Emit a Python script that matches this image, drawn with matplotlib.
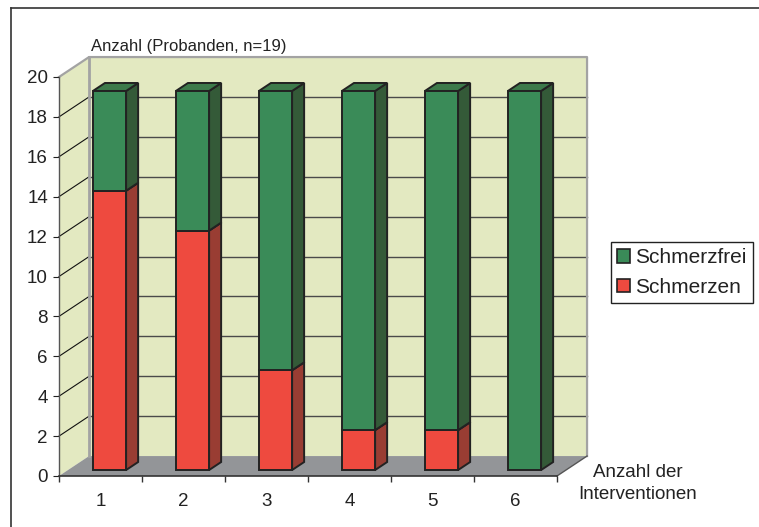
import matplotlib
matplotlib.use("Agg")
import matplotlib.pyplot as plt
from matplotlib.patches import Polygon, Patch
from matplotlib.lines import Line2D

plt.rcParams['font.family'] = ['Liberation Sans', 'DejaVu Sans']

# data
categories = ["1", "2", "3", "4", "5", "6"]
schmerzen = [14, 12, 5, 2, 2, 0]
schmerzfrei = [5, 7, 14, 17, 17, 19]
y_ticks = list(range(0, 21, 2))
series_names = ["Schmerzfrei", "Schmerzen"]
y_title = "Anzahl (Probanden, n=19)"
x_title = ["Anzahl der", "Interventionen"]

# colours
WALL = "#e3e9c1"
FLOOR = "#939598"
WALL_EDGE = "#a3a3a3"
GRID = "#4a4a4a"
RED = ("#ee4a3f", "#993d33", "#c6473c")     # front, side, top
GREEN = ("#3a8b58", "#345a38", "#3d7a4b")
EDGE = "#222222"

W, H = 759, 527
fig = plt.figure(figsize=(W / 100, H / 100), dpi=100)
fig.patch.set_facecolor("white")

# outer frame (top and left border)
fig.add_artist(Line2D([11 / W, 1.0], [1 - 8 / H, 1 - 8 / H], color="#333333", lw=1.2))
fig.add_artist(Line2D([11 / W, 11 / W], [1 - 8 / H, 0.0], color="#333333", lw=1.2))

ax = fig.add_axes([59 / W, 1 - 476 / H, 498 / W, 399 / H])
ax.set_xlim(0.5, 6.5)
ax.set_ylim(0, 20)
ax.patch.set_alpha(0)

# oblique depth offset of the chart box (category units, value units)
DX, DY = 0.362, 1.0
x0, x1 = 0.5, 6.5
ymax = 20


def poly(pts, fc, ec="none", lw=0, z=1):
    p = Polygon(pts, closed=True, facecolor=fc, edgecolor=ec, lw=lw,
                zorder=z, clip_on=False, joinstyle="miter")
    ax.add_patch(p)


# walls and floor
poly([(x0, 0), (x0, ymax), (x0 + DX, ymax + DY), (x0 + DX, DY)], WALL, z=0.5)
poly([(x0 + DX, DY), (x0 + DX, ymax + DY), (x1 + DX, ymax + DY), (x1 + DX, DY)], WALL, z=0.5)
poly([(x0, 0), (x1, 0), (x1 + DX, DY), (x0 + DX, DY)], FLOOR, z=0.6)

# gridlines on back wall and side wall
for v in y_ticks[1:-1]:
    ax.plot([x0 + DX, x1 + DX], [v + DY, v + DY], color=GRID, lw=1.0,
            zorder=0.7, clip_on=False)
for v in y_ticks[1:-1]:
    ax.plot([x0, x0 + DX], [v, v + DY], color="#111111", lw=0.8,
            zorder=0.7, clip_on=False)

# wall borders
ax.plot([x0, x0 + DX, x1 + DX, x1 + DX], [ymax, ymax + DY, ymax + DY, DY],
        color=WALL_EDGE, lw=1.6, zorder=0.8, clip_on=False)
ax.plot([x0 + DX, x0 + DX], [DY, ymax + DY], color=WALL_EDGE, lw=2.0,
        zorder=0.8, clip_on=False)
ax.plot([x1, x1 + DX], [0, DY], color="#555555", lw=1.0, zorder=0.8, clip_on=False)

# bars
BW = 0.40       # bar width in category units
D0, D1 = 0.30, 0.70   # bar front/back position within the depth


def bar3d(xc, bottom, height, colors, z):
    if height <= 0:
        return
    front, side, top = colors
    xl = xc - BW / 2 + D0 * DX
    xr = xc + BW / 2 + D0 * DX
    yb = bottom + D0 * DY
    yt = bottom + height + D0 * DY
    ddx = (D1 - D0) * DX
    ddy = (D1 - D0) * DY
    poly([(xr, yb), (xr + ddx, yb + ddy), (xr + ddx, yt + ddy), (xr, yt)],
         side, EDGE, 1.4, z)
    poly([(xl, yt), (xr, yt), (xr + ddx, yt + ddy), (xl + ddx, yt + ddy)],
         top, EDGE, 1.4, z)
    poly([(xl, yb), (xr, yb), (xr, yt), (xl, yt)], front, EDGE, 1.4, z)


for i, (r, g) in enumerate(zip(schmerzen, schmerzfrei)):
    xc = i + 1
    bar3d(xc, 0, r, RED, 2)
    bar3d(xc, r, g, GREEN, 3)

# axes, ticks and labels
for s in ("top", "right"):
    ax.spines[s].set_visible(False)
ax.spines["left"].set_color("#555555")
ax.spines["left"].set_linewidth(1.0)
ax.spines["bottom"].set_color("#333333")
ax.spines["bottom"].set_linewidth(1.2)
for sp in ax.spines.values():
    sp.set_zorder(5)

ax.set_yticks(y_ticks)
ax.set_yticklabels([str(v) for v in y_ticks])
ax.tick_params(axis="y", direction="out", length=4, width=0.8, pad=4,
               labelsize=13.5, colors="#222222")

ax.set_xticks([i + 0.5 for i in range(len(categories) + 1)])
ax.set_xticklabels([])
ax.set_xticks(range(1, len(categories) + 1), minor=True)
ax.set_xticklabels(categories, minor=True)
ax.tick_params(axis="x", which="major", direction="out", length=4, width=1.0,
               colors="#333333")
ax.tick_params(axis="x", which="minor", length=0, pad=12, labelsize=13.5,
               labelcolor="#222222")

fig.text(90.7 / W, 1 - 50.7 / H, y_title, fontsize=12, color="#222222",
         ha="left", va="baseline")
fig.text(637.5 / W, 1 - 476.7 / H, x_title[0], fontsize=13.5, color="#222222",
         ha="center", va="baseline")
fig.text(637.5 / W, 1 - 499.0 / H, x_title[1], fontsize=13.5, color="#222222",
         ha="center", va="baseline")

handles = [Patch(facecolor=GREEN[0], edgecolor=EDGE, lw=1.2),
           Patch(facecolor=RED[0], edgecolor=EDGE, lw=1.2)]
leg = fig.legend(handles, series_names, loc="upper left",
                 bbox_to_anchor=(611 / W, 1 - 242 / H),
                 bbox_transform=fig.transFigure, borderaxespad=0,
                 fancybox=False, edgecolor="#222222", framealpha=1,
                 fontsize=15, handlelength=0.62, handleheight=0.62,
                 handletextpad=0.25, borderpad=0.3, labelspacing=0.5)
leg.get_frame().set_linewidth(1.0)
for t in leg.get_texts():
    t.set_color("#222222")

fig.savefig("out.png", dpi=100)
